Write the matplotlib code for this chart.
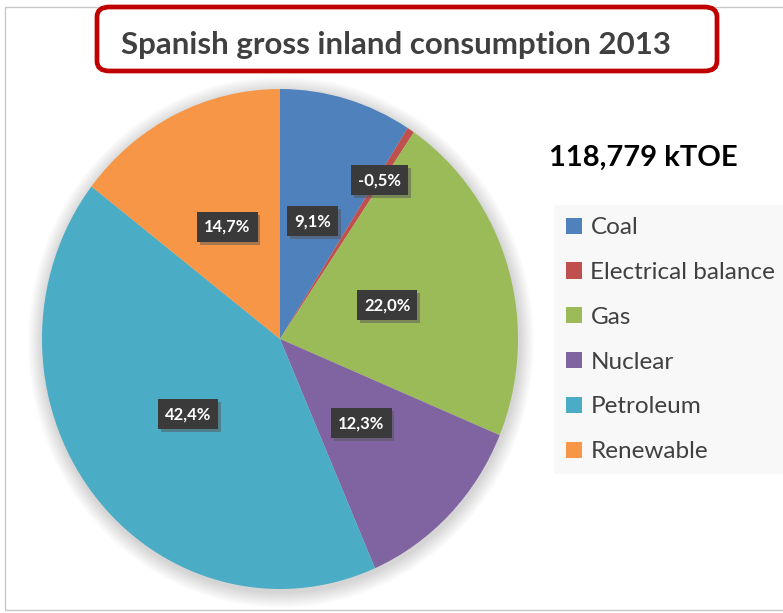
import matplotlib
matplotlib.use("Agg")
import matplotlib.pyplot as plt
import matplotlib.patheffects as pe
from matplotlib.patches import FancyBboxPatch, Rectangle, Ellipse
import numpy as np

categories = ["Coal", "Electrical balance", "Gas", "Nuclear", "Petroleum", "Renewable"]
shares = [9.1, -0.5, 22.0, 12.3, 42.4, 14.7]
colors = ["#4F81BD", "#C0504D", "#9BBB59", "#8064A2", "#4BACC6", "#F79646"]
title = "Spanish gross inland consumption 2013"
total_label = "118,779 kTOE"

plt.rcParams['font.family'] = ['Lato', 'DejaVu Sans']

W, H = 783, 613
fig = plt.figure(figsize=(W / 100, H / 100), dpi=100)
fig.patch.set_facecolor("white")

# outer chart border
fig.patches.append(Rectangle((5 / W, 3 / H), 1.2, (H - 10) / H, transform=fig.transFigure,
                             fill=False, edgecolor="#c8c8c8", lw=1))

# pie axes: the reference pie is slightly squashed (238 x 250 px radii)
cx, cy, rx, ry = 280, H - 339, 238, 250
ax = fig.add_axes([(cx - rx) / W, (cy - ry) / H, 2 * rx / W, 2 * ry / H])

# soft shadow around the pie
for k in range(14):
    g = 0.0045 * (14 - k)
    ax.add_patch(Ellipse((0.004, -0.012), 2 + 2 * g, 2 + 2 * g, color="black",
                         alpha=0.012, lw=0, zorder=0, clip_on=False))

sizes = [abs(v) for v in shares]
wedges, _ = ax.pie(sizes, colors=colors, startangle=90, counterclock=False,
                   radius=1, wedgeprops=dict(linewidth=0))
for w in wedges:
    w.set_zorder(2)

dists = [0.49, 0.76, 0.47, 0.48, 0.49, 0.50]
for w, v, d in zip(wedges, shares, dists):
    mid = np.deg2rad((w.theta1 + w.theta2) / 2)
    t = ax.text(d * np.cos(mid), d * np.sin(mid), f"{v:.1f}%".replace(".", ","),
                ha="center", va="center", color="white", fontsize=12, fontweight="bold",
                zorder=5,
                bbox=dict(boxstyle="square,pad=0.42", fc="#3a3a3a", ec="none"))
    t.get_bbox_patch().set_path_effects([pe.SimplePatchShadow(offset=(2, -2), shadow_rgbFace="#555555", alpha=0.5), pe.Normal()])

ax.set_aspect("auto")
ax.set_xlim(-1, 1)
ax.set_ylim(-1, 1)
ax.axis("off")

# title box
fig.patches.append(FancyBboxPatch((97 / W, (H - 71) / H), 620 / W, 64 / H,
                                  boxstyle="round,pad=0,rounding_size=0.016",
                                  transform=fig.transFigure, fill=False,
                                  edgecolor="#C00000", lw=3.4))
fig.text(396 / W, (H - 45) / H, title, ha="center", va="center",
         fontsize=22.5, fontweight="bold", color="#404040")

fig.text(643 / W, (H - 158) / H, total_label, ha="center", va="center",
         fontsize=21, fontweight="bold", color="black")

handles = [Rectangle((0, 0), 1, 1, fc=c, ec="none") for c in colors]
leg = fig.legend(handles, categories, loc="upper left",
                 bbox_to_anchor=(554 / W, (H - 205) / H),
                 frameon=True, fancybox=False, facecolor="#f8f8f8", edgecolor="none",
                 framealpha=1, fontsize=17.5, labelspacing=0.98, handlelength=0.65,
                 handleheight=0.65, handletextpad=0.35, borderpad=0.5, borderaxespad=0)
for txt in leg.get_texts():
    txt.set_color("#404040")

fig.savefig("out.png", dpi=100)
